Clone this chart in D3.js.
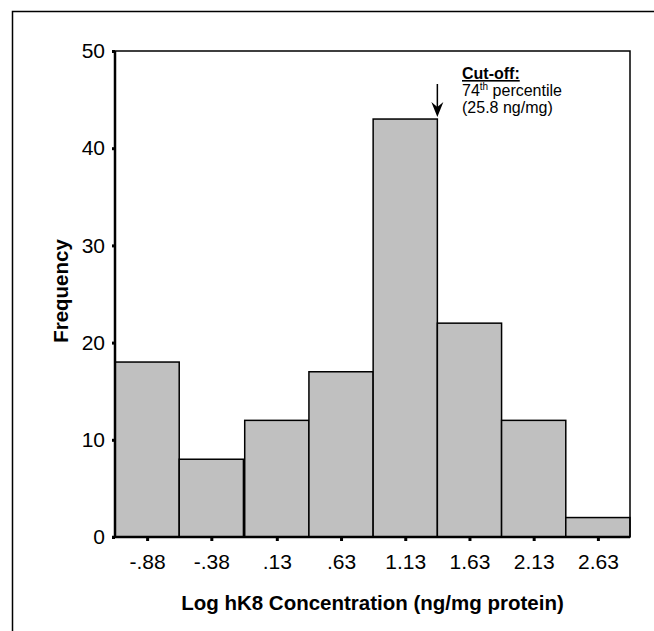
<!DOCTYPE html>
<html>
<head>
<meta charset="utf-8">
<script src="https://cdnjs.cloudflare.com/ajax/libs/d3/7.8.5/d3.min.js"></script>
<style>
  body { margin: 0; background: #fff; }
  svg { display: block; font-family: "Liberation Sans", Arial, sans-serif; }
</style>
</head>
<body>
<div id="chart"></div>
<script>
// Histogram bins (bin centres) and counts
const binLabels = ["-.88", "-.38", ".13", ".63", "1.13", "1.63", "2.13", "2.63"];
const binCenters = [-0.88, -0.38, 0.13, 0.63, 1.13, 1.63, 2.13, 2.63];
const counts = [18, 8, 12, 17, 43, 22, 12, 2];
const yTicks = [0, 10, 20, 30, 40, 50];
const cutOff = 1.38;  // position of the arrow, on the x scale

const W = 654, H = 631;
const margin = { top: 51, right: 24, bottom: 94, left: 115 };
const width = W - margin.left - margin.right;
const height = H - margin.top - margin.bottom;

const svg = d3.select("#chart").append("svg")
    .attr("width", W)
    .attr("height", H);

// Outer frame (runs off the right and bottom edges)
svg.append("path")
    .attr("d", "M12.5," + H + "V11.5H" + W)
    .attr("fill", "none")
    .attr("stroke", "#000")
    .attr("stroke-width", 1.5);

const g = svg.append("g")
    .attr("transform", "translate(" + margin.left + "," + margin.top + ")");

const binWidth = 0.5;
const x = d3.scaleLinear()
    .domain([binCenters[0] - binWidth / 2, binCenters[binCenters.length - 1] + binWidth / 2])
    .range([0, width]);
const y = d3.scaleLinear().domain([0, 50]).range([height, 0]);

// Bars
g.selectAll(".bar")
    .data(counts)
    .enter().append("rect")
    .attr("class", "bar")
    .attr("x", (d, i) => x(binCenters[i] - binWidth / 2))
    .attr("width", (d, i) => x(binCenters[i] + binWidth / 2) - x(binCenters[i] - binWidth / 2))
    .attr("y", d => y(d))
    .attr("height", d => y(0) - y(d))
    .attr("fill", "#c0c0c0")
    .attr("stroke", "#000")
    .attr("stroke-width", 1.5);

// Plot box top and right
g.append("path")
    .attr("d", "M0,0H" + width + "V" + height)
    .attr("fill", "none")
    .attr("stroke", "#000")
    .attr("stroke-width", 1.5);

// Y axis
const yAxis = g.append("g")
    .call(d3.axisLeft(y).tickValues(yTicks).tickSize(3).tickPadding(7).tickFormat(d3.format("d")));
yAxis.select(".domain").attr("stroke-width", 2.5).attr("d", "M0," + (height + 1) + "V0");
yAxis.selectAll(".tick line").attr("stroke-width", 3);
yAxis.selectAll("text")
    .style("font-size", "21px")
    .attr("fill", "#000");

// X axis
const xAxis = g.append("g")
    .attr("transform", "translate(0," + height + ")")
    .call(d3.axisBottom(x).tickValues(binCenters).tickSize(4).tickPadding(13)
        .tickFormat((d, i) => binLabels[i]));
xAxis.select(".domain").attr("stroke-width", 2.5).attr("d", "M-3,0H" + width);
xAxis.selectAll(".tick line").attr("stroke-width", 3);
xAxis.selectAll("text")
    .style("font-size", "21px")
    .attr("fill", "#000");

// Axis titles
g.append("text")
    .attr("x", width / 2)
    .attr("y", height + 73)
    .attr("text-anchor", "middle")
    .style("font-size", "20.5px")
    .style("font-weight", "bold")
    .text("Log hK8 Concentration (ng/mg protein)");

g.append("text")
    .attr("transform", "translate(" + (68 - margin.left) + "," + (height / 2 - 3) + ") rotate(-90)")
    .attr("text-anchor", "middle")
    .style("font-size", "20.5px")
    .style("font-weight", "bold")
    .text("Frequency");

// Cut-off arrow
const ax = x(cutOff);
g.append("line")
    .attr("x1", ax).attr("x2", ax)
    .attr("y1", 33).attr("y2", 60)
    .attr("stroke", "#000")
    .attr("stroke-width", 1.5);
g.append("path")
    .attr("d", "M" + (ax - 6) + ",51L" + ax + ",66L" + (ax + 6) + ",51L" + ax + ",56Z")
    .attr("fill", "#000");

// Annotation text
const nx = 347;
const note = g.append("text")
    .attr("x", nx)
    .attr("y", 28)
    .style("font-size", "16px")
    .attr("fill", "#000");
note.append("tspan")
    .style("font-weight", "bold")
    .style("text-decoration", "underline")
    .text("Cut-off:");
note.append("tspan").attr("x", nx).attr("dy", 17).text("74");
note.append("tspan").attr("dy", -6).style("font-size", "10px").text("th");
note.append("tspan").attr("dy", 6).text(" percentile");
note.append("tspan").attr("x", nx).attr("dy", 17).text("(25.8 ng/mg)");
</script>
</body>
</html>
